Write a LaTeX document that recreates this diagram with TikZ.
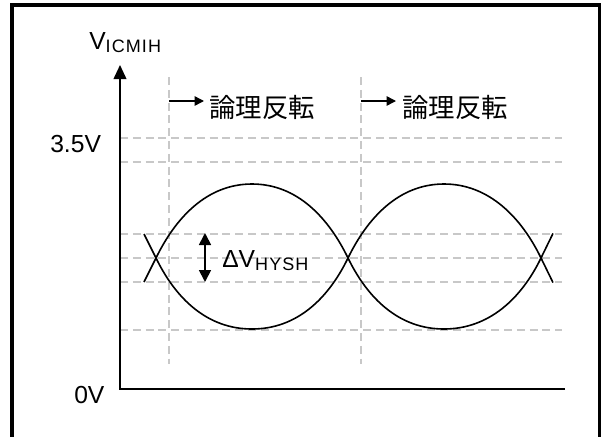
\documentclass[tikz,border=0pt]{standalone}
\usepackage{fontspec}
\setmainfont{Liberation Sans}
\newfontfamily\jfont{Noto Sans CJK JP}
\newfontfamily\subfont[LetterSpace=6]{Liberation Sans}
\usetikzlibrary{arrows.meta}
\definecolor{gridgray}{HTML}{C8C8C8}
\newcommand{\subtxt}[1]{\raisebox{-2.3pt}{\subfont\fontsize{13.5}{15}\selectfont #1}}
\begin{document}
\begin{tikzpicture}[x=0.75pt,y=-0.75pt,
  gridline/.style={draw=gridgray, line width=1.1pt, dash pattern=on 6pt off 3.6pt},
  curve/.style={line width=1.2pt, line join=round},
  lbl/.style={font=\fontsize{18.5}{20}\selectfont, inner sep=0pt, anchor=base west},
  jlbl/.style={font=\jfont\fontsize{19.8}{22}\selectfont, inner sep=0pt, anchor=west},
  smallarrow/.style={line width=1.1pt, -{Triangle[length=7pt,width=7pt]}},
]
\useasboundingbox (0,0) rectangle (602,436);
% frame
\draw[line width=2.6pt] (12,440) -- (12,5) -- (599.5,5) -- (599.5,440);
% grid
\foreach \yy in {138,162,234,258,282,330}
  \draw[gridline] (120,\yy) -- (562,\yy);
\draw[gridline] (169,77) -- (169,364);
\draw[gridline] (361,77) -- (361,364);
% axes
\coordinate (origin) at (120,389);
\coordinate (ytip) at (120,65);
\coordinate (xend) at (565,389);
\draw[line width=1.3pt, -{Triangle[length=10.5pt,width=9.5pt]}] (xend) -- (origin) -- (ytip);
% labels
\node[lbl] (vicmih) at (89,49) {V\subtxt{ICMIH}};
\node[lbl] (v35) at (50,152) {3.5V};
\node[lbl] (v0) at (74,403) {0V};
\node[lbl] (dvhysh) at (222,267) {ΔV\subtxt{HYSH}};
% logic inversion arrows
\coordinate (a1s) at (169,101);
\coordinate (a1e) at (204,101);
\coordinate (a2s) at (361,101);
\coordinate (a2e) at (396,101);
\draw[smallarrow] (a1s) -- (a1e);
\draw[smallarrow] (a2s) -- (a2e);
\node[jlbl] (inv1) at (209,107) {論理反転};
\node[jlbl] (inv2) at (402,107) {論理反転};
% hysteresis double arrow
\coordinate (ht) at (205,233);
\coordinate (hb) at (205,282);
\draw[line width=1.3pt, {Triangle[length=9pt,width=9pt]}-{Triangle[length=9pt,width=9pt]}] (ht) -- (hb);
% eye curves
\coordinate (c1) at (156,258);
\coordinate (c2) at (348,258);
\coordinate (c3) at (541,258);
\draw[curve] (144,282) -- (c1) .. controls (175.7,217.5) and (207,184) .. (252,184)
  .. controls (297,184) and (328.3,217.5) .. (c2)
  .. controls (367.7,298.5) and (399,329) .. (444,329)
  .. controls (489,329) and (521.3,298.5) .. (c3) -- (553,233.4);
\draw[curve] (144,234) -- (c1) .. controls (175.7,298.5) and (207,329) .. (252,329)
  .. controls (297,329) and (328.3,298.5) .. (c2)
  .. controls (367.7,217.5) and (399,184) .. (444,184)
  .. controls (489,184) and (521.3,217.5) .. (c3) -- (553,282.6);
\end{tikzpicture}
\end{document}
